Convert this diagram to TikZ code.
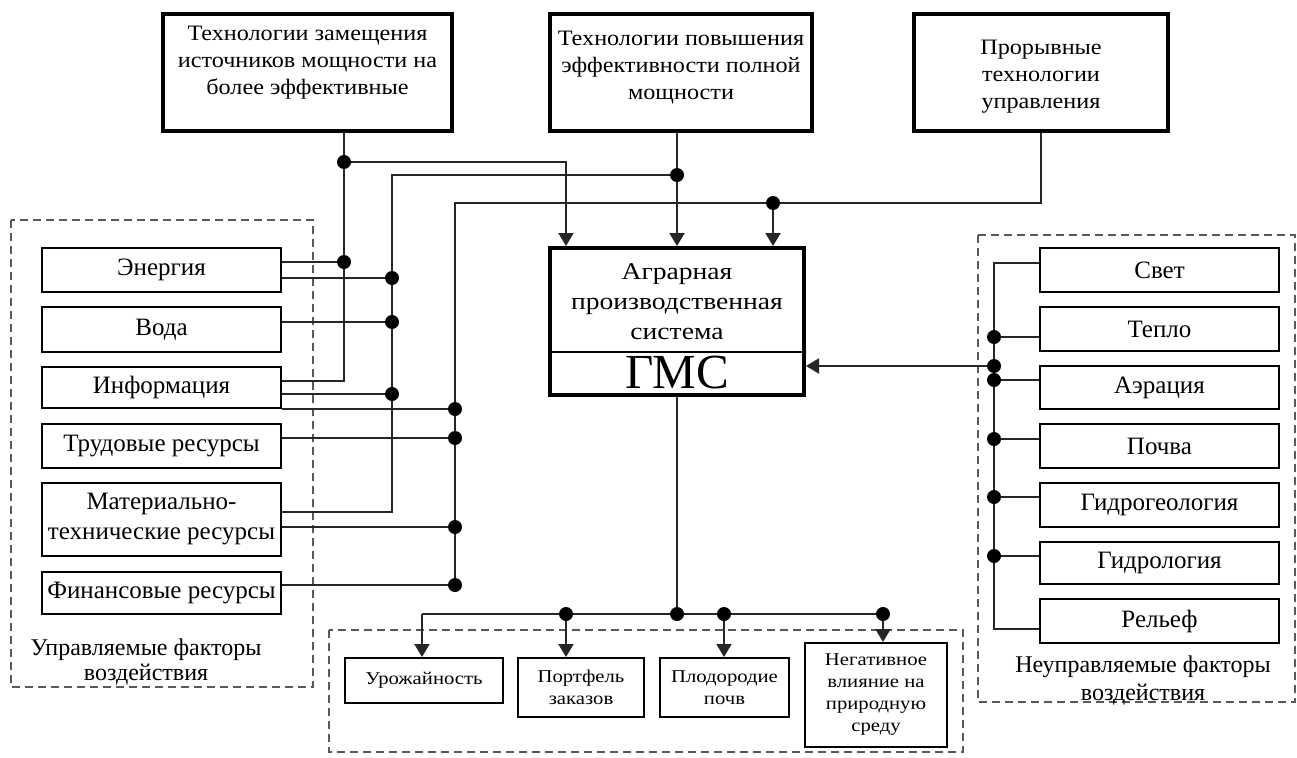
\documentclass[tikz,border=0pt]{standalone}
\usepackage{fontspec}
\setmainfont{Liberation Serif}
\newfontfamily\smallfnt[FakeStretch=1.15]{Liberation Serif}
\newfontfamily\widefnt[FakeStretch=1.1]{Liberation Serif}
\newfontfamily\cenfnt[FakeStretch=1.15]{Liberation Serif}
\usetikzlibrary{arrows.meta}
\tikzset{
  conn/.style={line width=2pt, draw=black!85},
  arr/.style={conn, -{Triangle[length=13pt,width=15pt]}},
  bigbox/.style={draw, line width=3.5pt, inner sep=0pt},
  sbox/.style={draw, line width=2pt, minimum width=239pt, inner sep=0pt, align=center, font=\fontsize{25}{30}\selectfont},
  bbox/.style={draw, line width=2pt, inner sep=0pt, align=center, font=\smallfnt\fontsize{18}{22}\selectfont},
  grp/.style={draw=black!65, line width=2pt, dash pattern=on 8pt off 5pt},
  txt/.style={align=center, inner sep=0pt},
  topf/.style={font=\widefnt\fontsize{22}{27}\selectfont},
}
\begin{document}
\begin{tikzpicture}[x=1pt,y=-1pt]
\useasboundingbox[fill=white] (0,0) rectangle (1297,757);
% group frames
\draw[grp] (11,220) rectangle (313,687);
\draw[grp] (978,235) rectangle (1295,702);
\draw[grp] (329,630) rectangle (963,752);
% top boxes
\node[bigbox, minimum width=289pt, minimum height=117pt] (T1) at (307.5,72.5) {};
\node[txt, topf] (T1t) at (307.5,63) {Технологии замещения\\источников мощности на\\более эффективные};
\node[bigbox, minimum width=262pt, minimum height=117pt] (T2) at (681,72.5) {};
\node[txt, topf] (T2t) at (681,68) {Технологии повышения\\эффективности полной\\мощности};
\node[bigbox, minimum width=254pt, minimum height=117pt] (T3) at (1041,72.5) {};
\node[txt, topf] (T3t) at (1041,77) {Прорывные\\технологии\\управления};
% central box
\node[bigbox, line width=4pt, minimum width=254pt, minimum height=147pt] (G) at (677,321.5) {};
\coordinate (dv) at (677,352);
\draw[line width=2pt] (G.west |- dv) -- (G.east |- dv);
\node[txt, font=\cenfnt\fontsize{24}{30}\selectfont] (Gt) at (677,302) {Аграрная\\производственная\\система};
\node[txt, font=\fontsize{49}{50}\selectfont] (Gm) at (677,373) {ГМС};
% left boxes
\node[sbox, minimum height=44pt] (L1) at (161.5,270) {Энергия};
\node[sbox, minimum height=45pt] (L2) at (161.5,329.5) {Вода};
\node[sbox, minimum height=41pt] (L3) at (161.5,387.5) {Информация};
\node[sbox, minimum height=44pt] (L4) at (161.5,446) {Трудовые ресурсы};
\node[sbox, minimum height=73pt] (L5) at (161.5,519.5) {Материально-\\технические ресурсы};
\node[sbox, minimum height=42pt] (L6) at (161.5,593) {Финансовые ресурсы};
\node[txt, font=\fontsize{24}{25}\selectfont] (LDl) at (146,662) {Управляемые факторы\\воздействия};
% right boxes
\node[sbox, minimum height=44pt] (R1) at (1159.5,270) {Свет};
\node[sbox, minimum height=44pt] (R2) at (1159.5,329) {Тепло};
\node[sbox, minimum height=43pt] (R3) at (1159.5,387.5) {Аэрация};
\node[sbox, minimum height=44pt] (R4) at (1159.5,446) {Почва};
\node[sbox, minimum height=44pt] (R5) at (1159.5,505) {Гидрогеология};
\node[sbox, minimum height=42pt] (R6) at (1159.5,563) {Гидрология};
\node[sbox, minimum height=44pt] (R7) at (1159.5,621) {Рельеф};
\node[txt, font=\fontsize{24}{28}\selectfont] (RDl) at (1143,680) {Неуправляемые факторы\\воздействия};
% bottom boxes
\node[bbox, minimum width=158pt, minimum height=45pt] (B1) at (424,680.5) {Урожайность};
\node[bbox, minimum width=126pt, minimum height=59pt] (B2) at (581,687.5) {Портфель\\заказов};
\node[bbox, minimum width=129pt, minimum height=59pt] (B3) at (724.5,687.5) {Плодородие\\почв};
\node[bbox, minimum width=142pt, minimum height=104pt] (B4) at (876,695) {Негативное\\влияние на\\природную\\среду};
% junction coordinates
\coordinate (aTop) at (344,162);
\coordinate (aE) at (344,262);
\coordinate (aI) at (344,381);
\coordinate (pA) at (566,0);
\coordinate (bB) at (677,175);
\coordinate (bM) at (392,512);
\coordinate (b1) at (392,278);
\coordinate (b2) at (392,322);
\coordinate (b3) at (392,394);
\coordinate (cTop) at (455,203);
\coordinate (cG) at (773,203);
\coordinate (c3) at (455,409);
\coordinate (c4) at (455,438);
\coordinate (c5) at (455,527);
\coordinate (cF) at (455,585);
\coordinate (r1) at (994,263);
\coordinate (r2) at (994,337);
\coordinate (rG) at (994,366);
\coordinate (r3) at (994,380);
\coordinate (r4) at (994,439);
\coordinate (r5) at (994,497);
\coordinate (r6) at (994,556);
\coordinate (r7) at (994,629);
\coordinate (gB) at (677,614);
\coordinate (k1) at (422,614);
\coordinate (k2) at (566,614);
\coordinate (k3) at (724,614);
\coordinate (k4) at (883,614);
% connectors from T1
\draw[conn] (T1.south -| aTop) -- (aI) -- (L3.east |- aI);
\draw[conn] (L1.east |- aE) -- (aE);
\draw[arr] (aTop) -| (G.north -| pA);
% connectors from T2
\draw[arr] (T2.south -| G.north) -- (G.north);
\draw[conn] (bB) -| (bM) -- (L5.east |- bM);
\draw[conn] (L1.east |- b1) -- (b1);
\draw[conn] (L2.east |- b2) -- (b2);
\draw[conn] (L3.east |- b3) -- (b3);
% connectors from T3
\draw[conn] (T3.south) |- (cTop) -- (cF) -- (L6.east |- cF);
\draw[arr] (cG) -- (G.north -| cG);
\draw[conn] (L3.east |- c3) -- (c3);
\draw[conn] (L4.east |- c4) -- (c4);
\draw[conn] (L5.east |- c5) -- (c5);
% right bus
\draw[conn] (R1.west |- r1) -- (r1) -- (r7) -- (R7.west |- r7);
\draw[conn] (R2.west |- r2) -- (r2);
\draw[conn] (R3.west |- r3) -- (r3);
\draw[conn] (R4.west |- r4) -- (r4);
\draw[conn] (R5.west |- r5) -- (r5);
\draw[conn] (R6.west |- r6) -- (r6);
\draw[arr] (rG) -- (G.east |- rG);
% bottom bus
\draw[conn] (G.south) -- (gB);
\draw[conn] (k1) -- (k4);
\draw[arr] (k1) -- (B1.north -| k1);
\draw[arr] (k2) -- (B2.north -| k2);
\draw[arr] (k3) -- (B3.north -| k3);
\draw[arr] (k4) -- (B4.north -| k4);
% dots
\foreach \p in {aTop,aE,bB,b1,b2,b3,cG,c3,c4,c5,cF,r2,rG,r3,r4,r5,r6,gB,k2,k3,k4}
  \fill (\p) circle (7pt);
\end{tikzpicture}
\end{document}
